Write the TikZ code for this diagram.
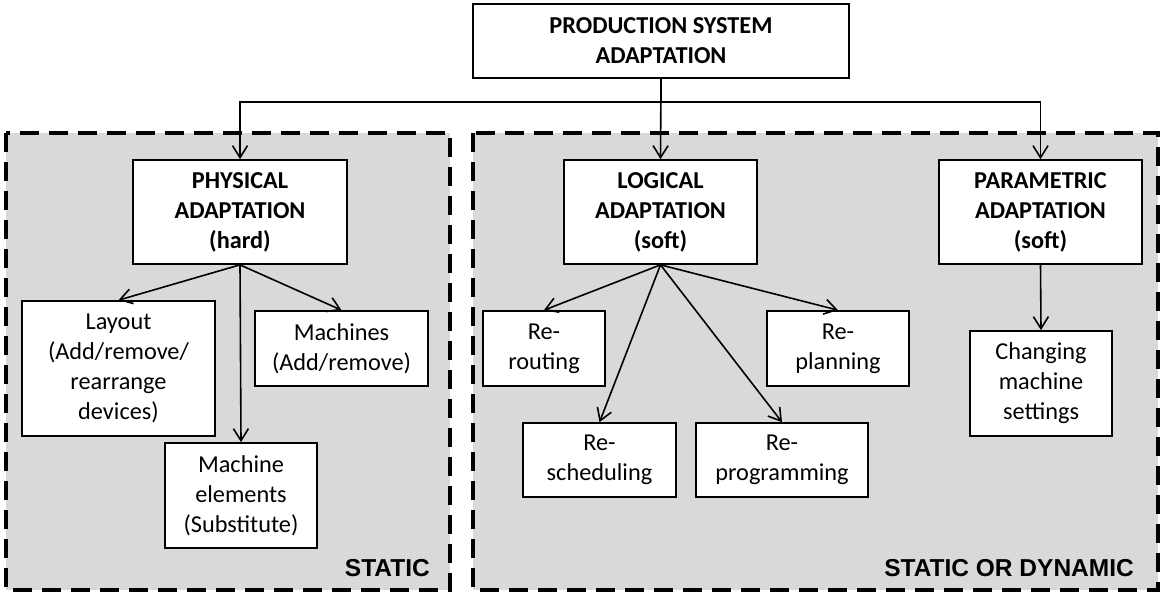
\documentclass[tikz,border=0pt]{standalone}
\usepackage{fontspec}
\setmainfont{Carlito}
\newfontfamily\labelfont{Liberation Sans}
\usetikzlibrary{arrows.meta}
\definecolor{regiongray}{HTML}{D9D9D9}
\begin{document}
\begin{tikzpicture}[x=1pt,y=-1pt,
  box/.style={draw=black, line width=1.7pt, fill=white, inner sep=0pt, align=center,
    font=\fontsize{24.3}{30}\selectfont},
  headbox/.style={box, font=\bfseries\fontsize{24.3}{30}\selectfont},
  region/.style={draw=black, fill=regiongray, line width=3.2pt, dash pattern=on 19pt off 10pt},
  regionlabel/.style={font=\labelfont\bfseries\fontsize{24.5}{28}\selectfont, anchor=south east, inner sep=0pt},
  arr/.style={-{Straight Barb[length=12pt,width=15pt]}, line width=1.6pt}]
\useasboundingbox (0,0) rectangle (1161,592);

% shaded regions
\draw[region] (6,133) rectangle (450,590);
\draw[region] (473,133) rectangle (1158,590);
\node[regionlabel] (lblstatic) at (430,577) {STATIC};
\node[regionlabel] (lbldyn) at (1134,577) {STATIC OR DYNAMIC};

% top level
\node[headbox, minimum width=376pt, minimum height=74pt] (top) at (661,41) {PRODUCTION SYSTEM\\ADAPTATION};

% adaptation types
\node[headbox, minimum width=214pt, minimum height=104pt] (phys) at (240,212) {PHYSICAL\\ADAPTATION\\(hard)};
\node[headbox, minimum width=193pt, minimum height=104pt] (logic) at (660.5,212) {LOGICAL\\ADAPTATION\\(soft)};
\node[headbox, minimum width=203pt, minimum height=104pt] (param) at (1040.5,212) {PARAMETRIC\\ADAPTATION\\(soft)};

% physical children
\node[box, minimum width=193pt, minimum height=135pt] (layout) at (118.5,368.5) {Layout\\(Add/remove/\\rearrange\\devices)};
\node[box, minimum width=173pt, minimum height=75pt] (mach) at (341.5,348.5) {Machines\\(Add/remove)};
\node[box, minimum width=152pt, minimum height=105pt] (melem) at (241,495.5) {Machine\\elements\\(Substitute)};

% logical children
\node[box, minimum width=122pt, minimum height=75pt] (rerout) at (544,348.5) {Re-\\routing};
\node[box, minimum width=142pt, minimum height=75pt] (replan) at (838,348.5) {Re-\\planning};
\node[box, minimum width=153pt, minimum height=74pt] (resched) at (599.5,460) {Re-\\scheduling};
\node[box, minimum width=172pt, minimum height=74pt] (reprog) at (782,460) {Re-\\programming};

% parametric child
\node[box, minimum width=142pt, minimum height=105pt] (changing) at (1041,383.5) {Changing\\machine\\settings};

% connectors
\coordinate (bus) at (661,102);
\draw[arr] (top.south) -- (logic.north);
\draw[arr] (top.south) -- (bus) -| (phys.north);
\draw[arr] (bus) -| (param.north);

\draw[arr] (phys.south) -- (layout.north);
\draw[arr] (phys.south) -- (mach.north);
\draw[arr] (phys.south) -- (melem.north);

\draw[arr] (logic.south) -- (rerout.north);
\draw[arr] (logic.south) -- (resched.north);
\draw[arr] (logic.south) -- (reprog.north);
\draw[arr] (logic.south) -- (replan.north);

\draw[arr] (param.south) -- (changing.north);
\end{tikzpicture}
\end{document}
